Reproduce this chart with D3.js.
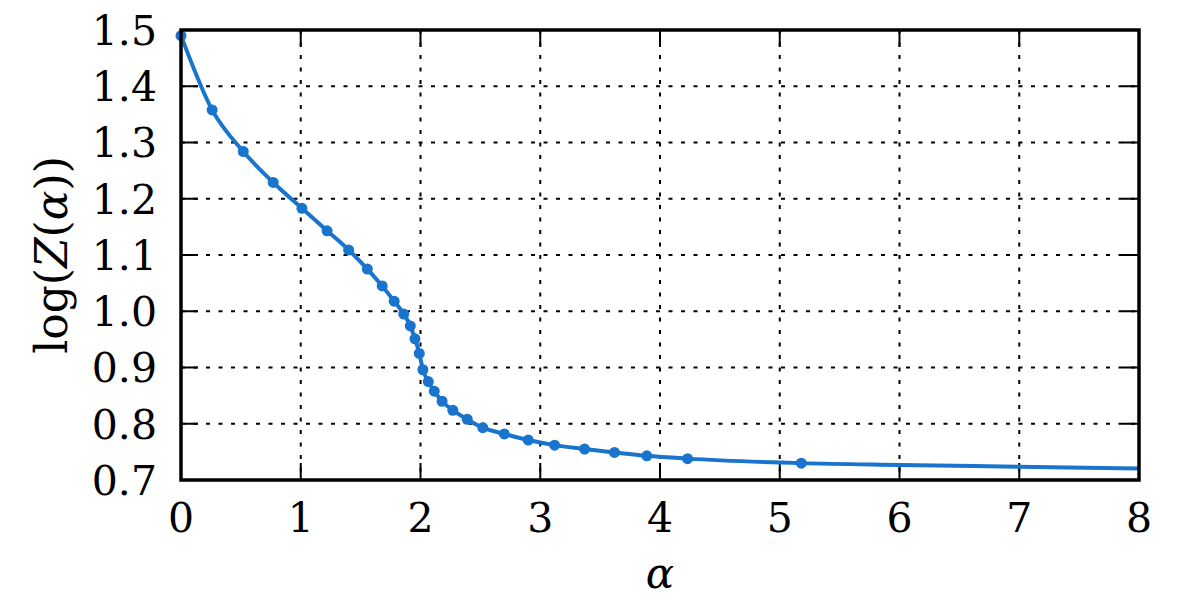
<!DOCTYPE html>
<html>
<head>
<meta charset="utf-8">
<script src="https://cdn.jsdelivr.net/npm/d3@7"></script>
<style>
  body { margin: 0; background: #fff; }
</style>
</head>
<body>
<svg id="chart"></svg>
<script>
// Values
const alphaValues = [0, 0.26, 0.52, 0.77, 1.01, 1.22, 1.40, 1.556, 1.68, 1.78, 1.86, 1.915,
  1.954, 1.99, 2.02, 2.065, 2.115, 2.18, 2.27, 2.39, 2.52, 2.70, 2.90, 3.12, 3.37, 3.62,
  3.89, 4.23, 5.18];
const logZValues = [1.49, 1.358, 1.284, 1.229, 1.183, 1.143, 1.109, 1.075, 1.045, 1.018, 0.995, 0.974,
  0.951, 0.925, 0.896, 0.875, 0.858, 0.840, 0.824, 0.808, 0.793, 0.782, 0.771, 0.762, 0.755, 0.749,
  0.743, 0.738, 0.730];
// the line keeps going past the last marker
const tailAlpha = [6, 7, 8];
const tailLogZ = [0.7268, 0.7235, 0.7203];

const xTicks = [0, 1, 2, 3, 4, 5, 6, 7, 8];
const yTicks = [0.7, 0.8, 0.9, 1.0, 1.1, 1.2, 1.3, 1.4, 1.5];

const width = 1200;
const height = 600;
const plot = { left: 181, right: 1139, top: 30, bottom: 480 };
const blue = '#1874cd';
const font = 'DejaVu Serif';

const svg = d3.select('#chart')
  .attr('width', width)
  .attr('height', height)
  .style('font-family', font);

const x = d3.scaleLinear().domain([0, 8]).range([plot.left, plot.right]);
const y = d3.scaleLinear().domain([0.7, 1.5]).range([plot.bottom, plot.top]);

// dotted grid
const grid = svg.append('g')
  .attr('stroke', '#000')
  .attr('stroke-width', 2)
  .attr('stroke-dasharray', '4,8.5');
grid.selectAll('.gx').data(xTicks.slice(1, -1)).join('line')
  .attr('x1', d => x(d)).attr('x2', d => x(d))
  .attr('y1', plot.top).attr('y2', plot.bottom);
grid.selectAll('.gy').data(yTicks.slice(1, -1)).join('line')
  .attr('x1', plot.left).attr('x2', plot.right)
  .attr('y1', d => y(d)).attr('y2', d => y(d));

// ticks pointing inward on all four sides
const tickLen = 17;
const ticks = svg.append('g').attr('stroke', '#000').attr('stroke-width', 2);
xTicks.forEach(t => {
  ticks.append('line').attr('x1', x(t)).attr('x2', x(t)).attr('y1', plot.bottom).attr('y2', plot.bottom - tickLen);
  ticks.append('line').attr('x1', x(t)).attr('x2', x(t)).attr('y1', plot.top).attr('y2', plot.top + tickLen);
});
yTicks.forEach(t => {
  ticks.append('line').attr('x1', plot.left).attr('x2', plot.left + tickLen).attr('y1', y(t)).attr('y2', y(t));
  ticks.append('line').attr('x1', plot.right).attr('x2', plot.right - tickLen).attr('y1', y(t)).attr('y2', y(t));
});

// curve and markers
const linePoints = alphaValues.map((a, i) => [a, logZValues[i]])
  .concat(tailAlpha.map((a, i) => [a, tailLogZ[i]]));

svg.append('path')
  .datum(linePoints)
  .attr('fill', 'none')
  .attr('stroke', blue)
  .attr('stroke-width', 4)
  .attr('d', d3.line().x(d => x(d[0])).y(d => y(d[1])).curve(d3.curveMonotoneX));

svg.append('g').selectAll('circle')
  .data(alphaValues.map((a, i) => [a, logZValues[i]]))
  .join('circle')
  .attr('cx', d => x(d[0]))
  .attr('cy', d => y(d[1]))
  .attr('r', 5.5)
  .attr('fill', blue);

// frame
svg.append('rect')
  .attr('x', plot.left).attr('y', plot.top)
  .attr('width', plot.right - plot.left).attr('height', plot.bottom - plot.top)
  .attr('fill', 'none').attr('stroke', '#000').attr('stroke-width', 3.5);

// tick labels
svg.append('g').selectAll('text').data(xTicks).join('text')
  .attr('x', d => x(d)).attr('y', 532)
  .attr('text-anchor', 'middle')
  .attr('font-size', 41)
  .text(d => d);

svg.append('g').selectAll('text').data(yTicks).join('text')
  .attr('x', plot.left - 24).attr('y', d => y(d)).attr('dy', '0.36em')
  .attr('text-anchor', 'end')
  .attr('font-size', 41)
  .text(d => d.toFixed(1));

// axis labels
svg.append('text')
  .attr('x', (plot.left + plot.right) / 2).attr('y', 588)
  .attr('text-anchor', 'middle')
  .attr('font-size', 42)
  .attr('font-style', 'italic')
  .text('α');

const yLabel = svg.append('text')
  .attr('transform', `translate(67, ${(plot.top + plot.bottom) / 2}) rotate(-90)`)
  .attr('text-anchor', 'middle')
  .attr('font-size', 44);
yLabel.append('tspan').text('log(');
yLabel.append('tspan').attr('font-style', 'italic').text('Z');
yLabel.append('tspan').text('(');
yLabel.append('tspan').attr('font-style', 'italic').text('α');
yLabel.append('tspan').text('))');
</script>
</body>
</html>
